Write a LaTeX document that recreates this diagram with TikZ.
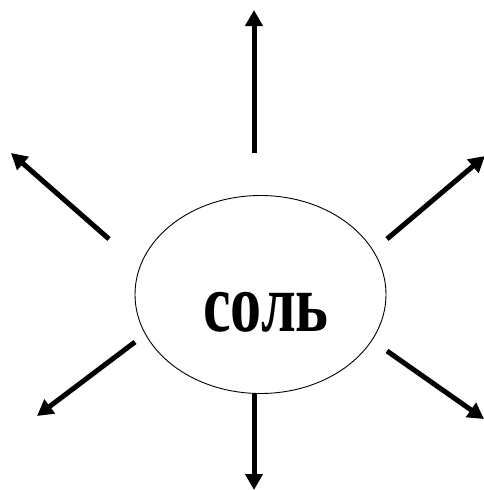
\documentclass[tikz,border=0pt]{standalone}
\usepackage{fontspec}
\setmainfont{Liberation Serif}
\usetikzlibrary{arrows.meta,shapes.geometric}
\tikzset{
  ray/.style={line width=5pt,-{Triangle[length=16pt,width=17pt]}},
  oval/.style={draw,ellipse,line width=0.9pt,minimum width=251pt,minimum height=198pt,inner sep=0pt}
}
\begin{document}
\begin{tikzpicture}[x=1pt,y=-1pt]
\useasboundingbox (0,0) rectangle (484,490);
\node[oval] (salt) at (260.5,294.5) {};
\node[font=\bfseries\fontsize{64}{64}\selectfont] (word) at (266,312) {\scalebox{0.97}[1.3]{соль}};
\coordinate (t0) at (254,153);   \coordinate (t1) at (254,10);
\coordinate (ul0) at (109,239);  \coordinate (ul1) at (11,153);
\coordinate (ur0) at (387,239);  \coordinate (ur1) at (485,156);
\coordinate (ll0) at (135,342);  \coordinate (ll1) at (37,416);
\coordinate (lr0) at (387,351);  \coordinate (lr1) at (484,419);
\coordinate (b1) at (254,490);
\draw[ray] (t0) -- (t1);
\draw[ray] (ul0) -- (ul1);
\draw[ray] (ur0) -- (ur1);
\draw[ray] (ll0) -- (ll1);
\draw[ray] (lr0) -- (lr1);
\draw[ray] (salt.south -| t0) -- (b1);
\end{tikzpicture}
\end{document}
